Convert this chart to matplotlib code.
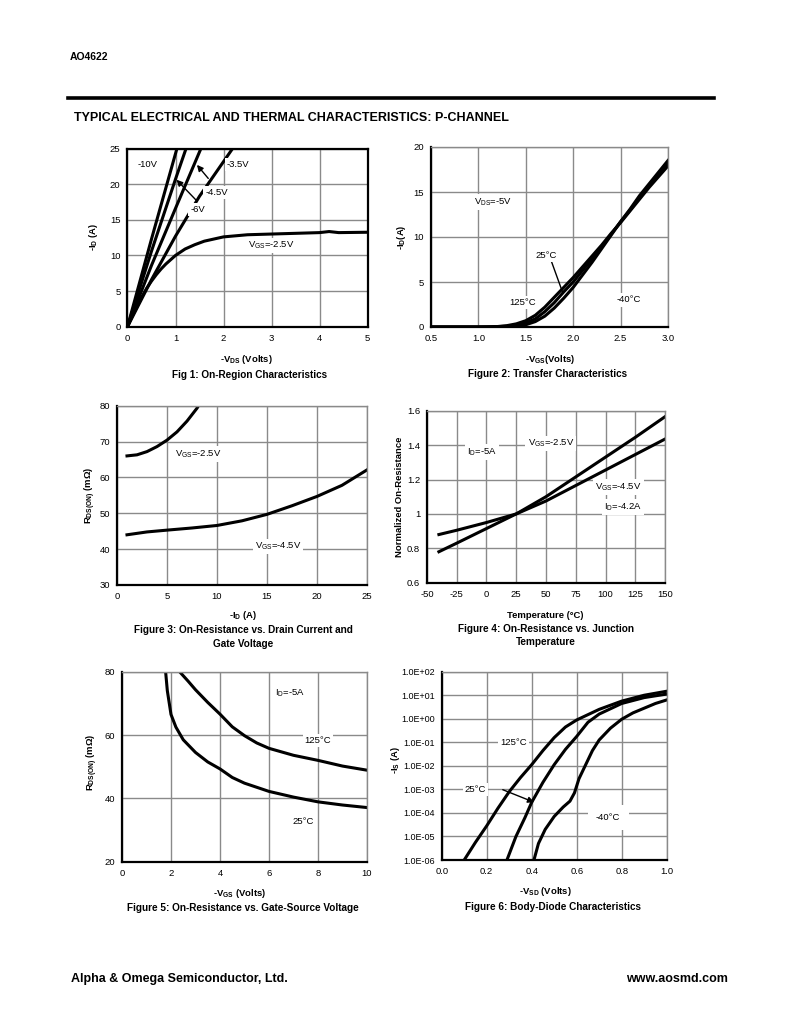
import numpy as np
import matplotlib
matplotlib.use("Agg")
import matplotlib.pyplot as plt

plt.rcParams["font.family"] = ["Liberation Sans", "DejaVu Sans"]
plt.rcParams["mathtext.fontset"] = "custom"
plt.rcParams["mathtext.rm"] = "Liberation Sans"
plt.rcParams["mathtext.bf"] = "Liberation Sans:bold"
plt.rcParams["axes.unicode_minus"] = False

W, H = 800, 1035
GRID = "#8a8a8a"
LW = 2.2
FS = 6.8
CAP = 7.2

# ── Fig 1: on-region ────────────────────────────────────────────────────────
vds_10 = [0, 0.5, 1.03]
id_10 = [0, 12.3, 25]
vds_6 = [0, 0.5, 1.0, 1.22]
id_6 = [0, 10.6, 20.7, 25]
vds_45 = [0, 0.5, 1.0, 1.53]
id_45 = [0, 8.6, 16.6, 25]
vds_35 = [0, 0.5, 1.0, 1.5, 2.19]
id_35 = [0, 6.6, 12.7, 18.3, 25]
vds_25 = [0, 0.1, 0.2, 0.3, 0.4, 0.5, 0.6, 0.7, 0.8, 0.9, 1.0, 1.2, 1.4, 1.6,
          1.8, 2.0, 2.5, 3.0, 3.5, 4.0, 4.2, 4.4, 5.0]
id_25 = [0, 1.5, 2.9, 4.2, 5.4, 6.4, 7.3, 8.1, 8.8, 9.4, 10.0, 10.9, 11.5, 12.0,
         12.3, 12.6, 12.9, 13.0, 13.1, 13.2, 13.35, 13.2, 13.25]

# ── Fig 2: transfer ─────────────────────────────────────────────────────────
vgs_125 = [0.5, 1.0, 1.2, 1.3, 1.4, 1.5, 1.6, 1.7, 1.8, 1.9, 2.0, 2.1, 2.2, 2.3, 2.4,
           2.5, 2.6, 2.7, 2.8, 2.9, 3.0]
id_125 = [0, 0, 0.05, 0.15, 0.35, 0.7, 1.3, 2.2, 3.3, 4.4, 5.5, 6.7, 7.9, 9.1, 10.4,
          11.6, 12.9, 14.2, 15.5, 16.7, 17.9]
vgs_25c = [0.5, 1.1, 1.3, 1.4, 1.5, 1.6, 1.7, 1.8, 1.9, 2.0, 2.1, 2.2, 2.3, 2.4,
           2.5, 2.6, 2.7, 2.8, 2.9, 3.0]
id_25c = [0, 0, 0.08, 0.2, 0.45, 0.9, 1.7, 2.7, 3.9, 5.0, 6.3, 7.6, 8.9, 10.3,
          11.7, 13.0, 14.4, 15.7, 17.0, 18.2]
vgs_m40 = [0.5, 1.2, 1.4, 1.5, 1.6, 1.7, 1.8, 1.9, 2.0, 2.1, 2.2, 2.3, 2.4,
           2.5, 2.6, 2.7, 2.8, 2.9, 3.0]
id_m40 = [0, 0, 0.08, 0.25, 0.6, 1.2, 2.1, 3.2, 4.4, 5.8, 7.2, 8.7, 10.2,
          11.7, 13.1, 14.6, 15.9, 17.2, 18.5]

# ── Fig 3: Rds(on) vs Id ────────────────────────────────────────────────────
id3_a = [1, 2, 3, 4, 5, 6, 7, 8, 8.15]
rds3_a = [66.0, 66.3, 67.2, 68.6, 70.4, 72.7, 75.7, 79.3, 80]
id3_b = [1, 3, 5, 7.5, 10, 12.5, 15, 17.5, 20, 22.5, 25]
rds3_b = [44.0, 44.8, 45.3, 45.9, 46.6, 47.9, 49.7, 52.1, 54.7, 57.8, 62.1]

# ── Fig 4: normalized Rds(on) vs temperature ───────────────────────────────
temp = [-40, -25, 0, 25, 50, 75, 100, 125, 150]
rn_25 = [0.78, 0.83, 0.915, 1.0, 1.1, 1.215, 1.33, 1.445, 1.565]
rn_45 = [0.88, 0.905, 0.95, 1.0, 1.075, 1.165, 1.255, 1.345, 1.435]

# ── Fig 5: Rds(on) vs Vgs ───────────────────────────────────────────────────
vgs5_25 = [1.78, 1.85, 1.95, 2.0, 2.2, 2.5, 3.0, 3.5, 4.0, 4.5, 5.0, 6.0, 7.0, 8.0, 9.0, 10.0]
rds5_25 = [80, 74, 69, 66.5, 62.5, 58.5, 54.5, 51.5, 49.3, 46.6, 44.8, 42.2, 40.4, 38.9, 37.9, 37.1]
vgs5_125 = [2.35, 2.7, 3.0, 3.5, 4.0, 4.5, 5.0, 5.5, 6.0, 7.0, 8.0, 9.0, 10.0]
rds5_125 = [80, 77, 74.3, 70.3, 66.6, 62.6, 59.8, 57.5, 55.8, 53.6, 52.0, 50.2, 48.9]

# ── Fig 6: body diode (log10 of Is) ─────────────────────────────────────────
vsd_125 = [0.10, 0.15, 0.2, 0.25, 0.3, 0.35, 0.4, 0.45, 0.5, 0.55, 0.6, 0.7, 0.8, 0.9, 1.0]
lis_125 = [-6, -5.25, -4.55, -3.8, -3.1, -2.5, -1.95, -1.35, -0.8, -0.35, -0.05, 0.4, 0.75, 1.0, 1.17]
vsd_25 = [0.29, 0.33, 0.37, 0.4, 0.45, 0.5, 0.55, 0.6, 0.65, 0.7, 0.8, 0.9, 1.0]
lis_25 = [-6, -5.0, -4.2, -3.55, -2.7, -1.95, -1.3, -0.75, -0.15, 0.2, 0.65, 0.9, 1.05]
vsd_m40 = [0.41, 0.43, 0.46, 0.5, 0.54, 0.57, 0.59, 0.61, 0.64, 0.67, 0.7, 0.75, 0.8,
           0.85, 0.9, 0.95, 1.0]
lis_m40 = [-6, -5.3, -4.7, -4.15, -3.75, -3.5, -3.15, -2.55, -1.95, -1.35, -0.9, -0.4,
           -0.02, 0.25, 0.45, 0.65, 0.8]
exp6 = [-6, -5, -4, -3, -2, -1, 0, 1, 2]


def fx(x):
    return x / W


def fy(y):
    return 1 - y / H


def make_ax(fig, left, top, right, bottom, box=False):
    ax = fig.add_axes([fx(left), fy(bottom), (right - left) / W, (bottom - top) / H])
    ax.grid(True, color=GRID, linewidth=1.0)
    ax.set_axisbelow(True)
    ax.tick_params(length=0, labelsize=FS, pad=5)
    for s in ["left", "bottom"]:
        ax.spines[s].set_color("black")
        ax.spines[s].set_linewidth(1.6)
    for s in ["top", "right"]:
        if box:
            ax.spines[s].set_color("black")
            ax.spines[s].set_linewidth(1.6)
        else:
            ax.spines[s].set_color(GRID)
            ax.spines[s].set_linewidth(1.0)
    return ax


def label(ax, x, y, s, **kw):
    ax.text(x, y, s, fontsize=FS, ha="center", va="center",
            bbox=dict(facecolor="white", edgecolor="none", pad=1.5), **kw)


def ftext(x, y, s, **kw):
    kw.setdefault("fontsize", FS)
    kw.setdefault("fontweight", "bold")
    fig.text(fx(x), fy(y), s, ha="center", va="center", **kw)


fig = plt.figure(figsize=(8, 10.35), dpi=100)

# header / footer
fig.text(fx(70), fy(57), "AO4622", fontsize=7.5, fontweight="bold", va="center")
fig.add_artist(plt.Line2D([fx(68), fx(714)], [fy(98), fy(98)], color="black", linewidth=2.6))
fig.text(fx(74), fy(118), "TYPICAL ELECTRICAL AND THERMAL CHARACTERISTICS: P-CHANNEL",
         fontsize=9.0, fontweight="bold", va="center")
fig.text(fx(71), fy(979), "Alpha & Omega Semiconductor, Ltd.", fontsize=9.0,
         fontweight="bold", va="center")
fig.text(fx(728), fy(979), "www.aosmd.com", fontsize=9.0, fontweight="bold",
         va="center", ha="right")

# Fig 1
ax1 = make_ax(fig, 127.5, 148.5, 367.5, 326.7, box=True)
for xs, ys in [(vds_10, id_10), (vds_6, id_6), (vds_45, id_45), (vds_35, id_35), (vds_25, id_25)]:
    ax1.plot(xs, ys, color="black", linewidth=LW, clip_on=True)
ax1.set_xlim(0, 5)
ax1.set_ylim(0, 25)
ax1.set_xticks(range(0, 6))
ax1.set_yticks(range(0, 26, 5))
label(ax1, 0.42, 22.8, "-10V")
label(ax1, 2.3, 22.8, "-3.5V")
label(ax1, 1.86, 18.8, "-4.5V")
label(ax1, 1.46, 16.4, "-6V")
label(ax1, 3.0, 11.4, r"V$_{\mathrm{GS}}$=-2.5V")
ax1.annotate("", xy=(1.41, 23.0), xytext=(1.72, 20.5),
             arrowprops=dict(arrowstyle="-|>", color="black", lw=1.0, mutation_scale=9))
ax1.annotate("", xy=(0.98, 20.9), xytext=(1.48, 17.4),
             arrowprops=dict(arrowstyle="-|>", color="black", lw=1.0, mutation_scale=9))
ftext(246, 360, r"-V$_{\mathbf{DS}}$ (Volts)")
ftext(250, 375, "Fig 1: On-Region Characteristics", fontsize=CAP)
ftext(93, 237, r"-I$_{\mathbf{D}}$ (A)", rotation=90)

# Fig 2
ax2 = make_ax(fig, 431, 147, 668, 327)
for xs, ys in [(vgs_125, id_125), (vgs_25c, id_25c), (vgs_m40, id_m40)]:
    ax2.plot(xs, ys, color="black", linewidth=LW)
ax2.set_xlim(0.5, 3.0)
ax2.set_ylim(0, 20)
ax2.set_xticks(np.arange(0.5, 3.01, 0.5))
ax2.set_xticklabels(["0.5", "1.0", "1.5", "2.0", "2.5", "3.0"])
ax2.set_yticks(range(0, 21, 5))
label(ax2, 1.16, 13.9, r"V$_{\mathrm{DS}}$=-5V")
label(ax2, 1.71, 7.9, "25°C")
label(ax2, 1.47, 2.7, "125°C")
label(ax2, 2.59, 3.0, "-40°C")
ax2.plot([1.77, 1.89], [7.3, 3.8], color="black", linewidth=1.0)
ftext(550, 360, r"-V$_{\mathbf{GS}}$(Volts)")
ftext(548, 374, "Figure 2: Transfer Characteristics", fontsize=CAP)
ftext(402, 237, r"-I$_{\mathbf{D}}$(A)", rotation=90)

# Fig 3
ax3 = make_ax(fig, 117, 405.7, 367, 585)
ax3.plot(id3_a, rds3_a, color="black", linewidth=LW)
ax3.plot(id3_b, rds3_b, color="black", linewidth=LW)
ax3.set_xlim(0, 25)
ax3.set_ylim(30, 80)
ax3.set_xticks(range(0, 26, 5))
ax3.set_yticks(range(30, 81, 10))
label(ax3, 8.1, 66.5, r"V$_{\mathrm{GS}}$=-2.5V")
label(ax3, 16.1, 40.7, r"V$_{\mathrm{GS}}$=-4.5V")
ftext(243, 616, r"-I$_{\mathbf{D}}$ (A)")
ftext(243, 630, "Figure 3: On-Resistance vs. Drain Current and", fontsize=CAP)
ftext(243, 644, "Gate Voltage", fontsize=CAP)
ftext(90, 495, r"R$_{\mathbf{DS(ON)}}$ (m$\mathbf{\Omega}$)", rotation=90)

# Fig 4
ax4 = make_ax(fig, 427, 410.7, 665, 582.7)
ax4.plot(temp, rn_25, color="black", linewidth=LW)
ax4.plot(temp, rn_45, color="black", linewidth=LW)
ax4.set_xlim(-50, 150)
ax4.set_ylim(0.6, 1.6)
ax4.set_xticks(range(-50, 151, 25))
ax4.set_yticks([0.6, 0.8, 1.0, 1.2, 1.4, 1.6])
ax4.set_yticklabels(["0.6", "0.8", "1", "1.2", "1.4", "1.6"])
label(ax4, -4, 1.36, r"I$_{\mathrm{D}}$=-5A")
label(ax4, 54, 1.41, r"V$_{\mathrm{GS}}$=-2.5V")
label(ax4, 111, 1.155, r"V$_{\mathrm{GS}}$=-4.5V")
label(ax4, 115, 1.04, r"I$_{\mathrm{D}}$=-4.2A")
ftext(545, 615, "Temperature (°C)")
ftext(546, 629, "Figure 4: On-Resistance vs. Junction", fontsize=CAP)
ftext(546, 642, "Temperature", fontsize=CAP)
ftext(399, 497, "Normalized On-Resistance", rotation=90)

# Fig 5
ax5 = make_ax(fig, 122, 671.7, 367, 861.7)
ax5.plot(vgs5_25, rds5_25, color="black", linewidth=LW)
ax5.plot(vgs5_125, rds5_125, color="black", linewidth=LW)
ax5.set_xlim(0, 10)
ax5.set_ylim(20, 80)
ax5.set_xticks(range(0, 11, 2))
ax5.set_yticks(range(20, 81, 20))
label(ax5, 6.85, 73.2, r"I$_{\mathrm{D}}$=-5A")
label(ax5, 8.0, 58.2, "125°C")
label(ax5, 7.4, 32.6, "25°C")
ftext(240, 893, r"-V$_{\mathbf{GS}}$ (Volts)")
ftext(243, 908, "Figure 5: On-Resistance vs. Gate-Source Voltage", fontsize=CAP)
ftext(92, 762, r"R$_{\mathbf{DS(ON)}}$ (m$\mathbf{\Omega}$)", rotation=90)

# Fig 6
ax6 = make_ax(fig, 441.7, 671.7, 666.7, 860)
for xs, ls in [(vsd_125, lis_125), (vsd_25, lis_25), (vsd_m40, lis_m40)]:
    ax6.plot(xs, np.power(10.0, ls), color="black", linewidth=LW)
ax6.set_yscale("log")
ax6.set_xlim(0, 1)
ax6.set_ylim(1e-6, 1e2)
ax6.set_xticks(np.arange(0, 1.01, 0.2))
ax6.set_xticklabels(["0.0", "0.2", "0.4", "0.6", "0.8", "1.0"])
ax6.set_yticks([10.0 ** e for e in exp6])
ax6.set_yticklabels([f"1.0E{e:+03d}" for e in exp6])
ax6.minorticks_off()
ax6.tick_params(axis="y", labelsize=FS - 0.3)
label(ax6, 0.32, 1e-1, "125°C")
label(ax6, 0.15, 1e-3, "25°C")
ax6.text(0.74, 10 ** -4.2, "-40°C", fontsize=FS, ha="center", va="center",
         bbox=dict(facecolor="white", edgecolor="none", pad=6))
ax6.annotate("", xy=(0.422, 10 ** -3.59), xytext=(0.26, 10 ** -2.97),
             arrowprops=dict(arrowstyle="-|>", color="black", lw=1.0, mutation_scale=9))
ftext(545, 891, r"-V$_{\mathbf{SD}}$ (Volts)")
ftext(553, 907, "Figure 6: Body-Diode Characteristics", fontsize=CAP)
ftext(396, 760, r"-I$_{\mathbf{S}}$ (A)", rotation=90)

fig.savefig("out.png", dpi=100)
